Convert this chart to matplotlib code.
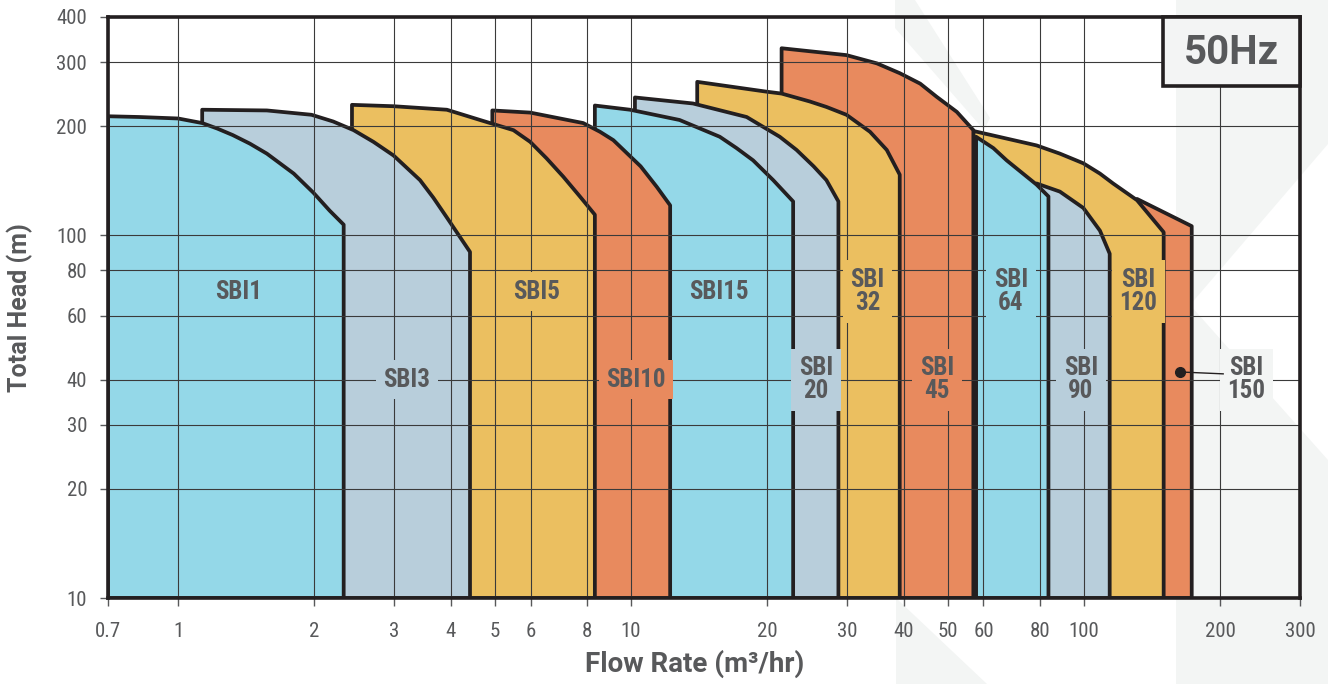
import matplotlib
matplotlib.use("Agg")
import matplotlib.pyplot as plt
from matplotlib.patches import Polygon, Rectangle
from matplotlib.ticker import FixedLocator, FixedFormatter, NullLocator

# Modelos e cores (ciclo de 4 cores)
models = ["SBI1", "SBI3", "SBI5", "SBI10", "SBI15", "SBI\n20",
          "SBI\n32", "SBI\n45", "SBI\n64", "SBI\n90", "SBI\n120", "SBI\n150"]
colors = ["#94d8e8", "#b8cedb", "#ebbf60", "#e88a5e"] * 3

# Curvas: vazão (m3/h) e altura (m) do topo de cada faixa
q_sbi1 = [0.7, 0.82, 1.0, 1.13, 1.22, 1.32, 1.44, 1.57, 1.80, 1.99, 2.16, 2.32]
h_sbi1 = [213, 212, 210, 204, 197, 189, 179, 168, 148, 131, 117, 107]
q_sbi3 = [1.13, 1.57, 1.97, 2.20, 2.44, 2.70, 2.99, 3.42, 3.66, 3.92, 4.41]
h_sbi3 = [222, 221, 215, 206, 195, 181, 166, 142, 127, 112, 90]
q_sbi5 = [2.42, 2.99, 3.92, 4.7, 5.5, 5.99, 6.51, 7.09, 7.71, 8.32]
h_sbi5 = [229, 227, 222, 207, 195, 181, 163, 145, 128, 114]
q_sbi10 = [4.94, 5.99, 7.84, 8.54, 9.14, 10.5, 11.4, 12.2]
h_sbi10 = [221, 218, 204, 193, 183, 155, 136, 121]
q_sbi15 = [8.32, 9.95, 12.8, 15.7, 17.1, 18.6, 20.6, 22.8]
h_sbi15 = [228, 222, 208, 187, 174, 161, 142, 124]
q_sbi20 = [10.2, 13.7, 18.0, 21.3, 23.2, 25.3, 27.0, 28.7]
h_sbi20 = [240, 231, 212, 187, 172, 155, 142, 124]
q_sbi32 = [14.0, 19.9, 21.5, 24.8, 27.0, 29.9, 33.7, 36.7, 39.2]
h_sbi32 = [265, 249, 246, 234, 226, 215, 193, 172, 147]
q_sbi45 = [21.5, 29.9, 34.9, 39.2, 43.5, 47.3, 52.4, 57.0]
h_sbi45 = [328, 314, 298, 280, 262, 241, 219, 195]
q_sbi64 = [57.8, 63.1, 67.5, 78.6, 83.5]
h_sbi64 = [187, 174, 161, 138, 128]
q_sbi90 = [78.6, 88.5, 99.7, 108.5, 114]
h_sbi90 = [139, 132, 119, 103, 89]
q_sbi120 = [57.0, 78.6, 88.5, 99.7, 108.5, 116, 131, 150]
h_sbi120 = [194, 177, 168, 158, 148, 139, 125, 102]
q_sbi150 = [131, 173]
h_sbi150 = [126, 106]

flows = [q_sbi1, q_sbi3, q_sbi5, q_sbi10, q_sbi15, q_sbi20,
         q_sbi32, q_sbi45, q_sbi64, q_sbi90, q_sbi120, q_sbi150]
heads = [h_sbi1, h_sbi3, h_sbi5, h_sbi10, h_sbi15, h_sbi20,
         h_sbi32, h_sbi45, h_sbi64, h_sbi90, h_sbi120, h_sbi150]

# Posição dos rótulos (m3/h, m)
label_q = [1.36, 3.2, 6.2, 10.25, 15.6, 25.6, 33.3, 47.4, 69, 98.5, 132, 228]
label_h = [70, 40, 70, 40, 70, 40, 70, 40, 70, 40, 70, 40]

x_ticks = [0.7, 1, 2, 3, 4, 5, 6, 8, 10, 20, 30, 40, 50, 60, 80, 100, 200, 300]
x_ticklabels = ["0.7", "1", "2", "3", "4", "5", "6", "8", "10", "20", "30",
                "40", "50", "60", "80", "100", "200", "300"]
y_ticks = [10, 20, 30, 40, 60, 80, 100, 200, 300, 400]
y_ticklabels = ["10", "20", "30", "40", "60", "80", "100", "200", "300", "400"]

TXT = "#58595b"
EDGE = "#231f20"
WATER = "#f3f5f4"
NARROW = ["Roboto Condensed", "DejaVu Sans Condensed", "Roboto", "DejaVu Sans"]

W, H = 1328, 684
fig = plt.figure(figsize=(W / 100, H / 100), dpi=100)
fig.patch.set_facecolor("white")


# marca d'água clara ao fundo (coordenadas em pixels da figura)
def fig_poly(pts, color):
    pts = [(x / W, 1 - y / H) for x, y in pts]
    fig.patches.append(Polygon(pts, closed=True, transform=fig.transFigure,
                               facecolor=color, edgecolor="none", zorder=-2))


fig_poly([(1176, 0), (1328, 0), (1328, 684), (1176, 684)], WATER)
fig_poly([(1328, 144), (1190, 305), (1328, 460)], "white")
fig_poly([(896, 598), (896, 684), (987, 684)], WATER)
fig_poly([(895, 0), (915, 0), (990, 118), (984, 130), (895, 28)], WATER)

ax = fig.add_axes([108 / W, 1 - 598 / H, 1192 / W, 581 / H])
ax.set_facecolor("none")
ax.set_xscale("log")
ax.set_yscale("log")
ax.set_xlim(0.7, 300)
ax.set_ylim(10, 400)

# faixas: desenhadas de trás para frente para a menor ficar por cima
n = len(models)
for i in reversed(range(n)):
    q = flows[i]
    h = heads[i]
    xs = [q[0]] + q + [q[-1]]
    ys = [10] + h + [10]
    ax.fill(xs, ys, facecolor=colors[i], edgecolor=EDGE, linewidth=2.7,
            joinstyle="round", zorder=1 + (n - i) * 0.01)

# grade por cima das faixas
ax.set_axisbelow(False)
ax.xaxis.set_major_locator(FixedLocator(x_ticks))
ax.xaxis.set_major_formatter(FixedFormatter(x_ticklabels))
ax.yaxis.set_major_locator(FixedLocator(y_ticks))
ax.yaxis.set_major_formatter(FixedFormatter(y_ticklabels))
ax.xaxis.set_minor_locator(NullLocator())
ax.yaxis.set_minor_locator(NullLocator())
ax.grid(True, color="#3a3a3a", linewidth=0.8)

ax.tick_params(axis="both", colors=TXT, labelcolor=TXT, width=1, length=6,
               direction="out", labelsize=15)
ax.tick_params(axis="x", pad=11)
ax.tick_params(axis="y", pad=9)
for lab in ax.get_xticklabels() + ax.get_yticklabels():
    lab.set_family(NARROW)

for s in ax.spines.values():
    s.set_linewidth(2.6)
    s.set_color(EDGE)
    s.set_zorder(6)

# rótulos das faixas
for i in range(n):
    bg = colors[i] if i < n - 1 else WATER
    ax.text(label_q[i], label_h[i], models[i], ha="center", va="center",
            fontsize=18, fontweight="bold", color=TXT, family=NARROW,
            linespacing=0.95, zorder=5,
            bbox=dict(boxstyle="square,pad=0.3", facecolor=bg, edgecolor="none"))

# marcador do SBI150
ax.plot([163, 203], [42, 41.5], color=EDGE, linewidth=1, zorder=5)
ax.plot([163], [42], "o", color=EDGE, markersize=7, zorder=5)

# caixa 50Hz
ax.add_patch(Rectangle((0.885, 0.881), 0.115, 0.119, transform=ax.transAxes,
                       facecolor="#f3f4f4", edgecolor=EDGE, linewidth=2.6,
                       zorder=7, clip_on=False))
ax.text(0.9425, 0.938, "50Hz", transform=ax.transAxes, ha="center", va="center",
        fontsize=29, fontweight="bold", color=TXT, family="Roboto", zorder=8)

ax.set_xlabel("Flow Rate (m³/hr)", fontsize=20, fontweight="bold", color=TXT,
              family="Roboto")
ax.set_ylabel("Total Head (m)", fontsize=18, fontweight="bold", color=TXT,
              family="Roboto")
ax.xaxis.set_label_coords(0.4925, -0.09)
ax.yaxis.set_label_coords(-0.063, 0.5)

fig.savefig("out.png", dpi=100)
